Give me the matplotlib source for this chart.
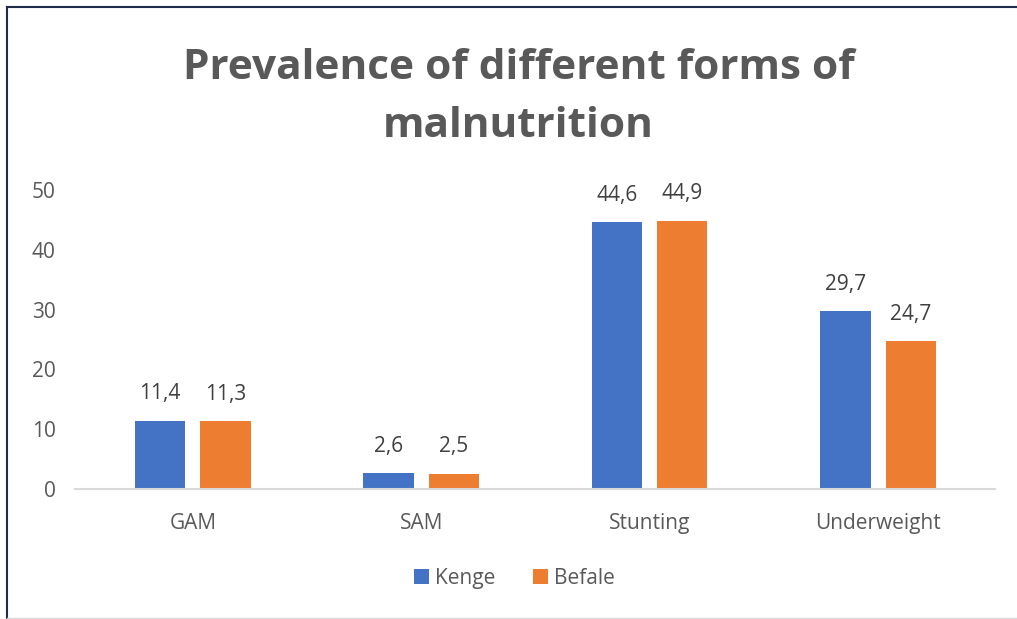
import matplotlib
matplotlib.use("Agg")
import matplotlib.pyplot as plt
import numpy as np
from matplotlib.lines import Line2D

# data
categories = ["GAM", "SAM", "Stunting", "Underweight"]
kenge = [11.4, 2.6, 44.6, 29.7]
befale = [11.3, 2.5, 44.9, 24.7]
series_names = ["Kenge", "Befale"]
y_ticks = [0, 10, 20, 30, 40, 50]

TEXT = "#595959"
BLUE = "#4472C4"
ORANGE = "#ED7D31"
FONT = ["Open Sans", "DejaVu Sans"]

plt.rcParams["font.family"] = FONT

fig = plt.figure(figsize=(10.17, 6.19), dpi=100)
ax = fig.add_axes([0.0737, 0.21, 0.9043, 0.483])

x = np.arange(len(categories))
width = 0.22
offset = 0.143

bars_k = ax.bar(x - offset, kenge, width, color=BLUE, label=series_names[0])
bars_b = ax.bar(x + offset, befale, width, color=ORANGE, label=series_names[1])

for bars in (bars_k, bars_b):
    labels = [f"{v:.1f}".replace(".", ",") for v in bars.datavalues]
    ax.bar_label(bars, labels=labels, padding=12, color="#404040", fontsize=15)

ax.set_xlim(-0.516, 3.51)
ax.set_ylim(0, 50)
ax.set_xticks(x)
ax.set_xticklabels(categories, color=TEXT, fontsize=15)
ax.set_yticks(y_ticks)
ax.set_yticklabels([str(t) for t in y_ticks], color=TEXT, fontsize=15)
ax.tick_params(axis="both", length=0)
ax.tick_params(axis="x", pad=17)
ax.tick_params(axis="y", pad=14)
for side in ("top", "right", "left"):
    ax.spines[side].set_visible(False)
ax.spines["bottom"].set_color("#D9D9D9")
ax.spines["bottom"].set_linewidth(1.5)

fig.text(0.51, 0.842, "Prevalence of different forms of\nmalnutrition",
         ha="center", va="center", fontsize=30.5, fontweight="bold",
         color=TEXT, linespacing=1.55)

fig.legend(loc="center", bbox_to_anchor=(0.506, 0.066), ncol=2, frameon=False,
           fontsize=15, labelcolor=TEXT, handlelength=0.7, handleheight=0.7,
           handletextpad=0.3, columnspacing=1.8)

# chart border
fig.add_artist(Line2D([7 / 1017, 7 / 1017], [0, 1 - 7 / 619], color="#1F2D4D",
                      linewidth=1.5, transform=fig.transFigure))
fig.add_artist(Line2D([7 / 1017, 1], [1 - 7 / 619, 1 - 7 / 619], color="#1F2D4D",
                      linewidth=1.5, transform=fig.transFigure))
fig.add_artist(Line2D([7 / 1017, 1], [1.5 / 619, 1.5 / 619], color="#D9D9D9",
                      linewidth=1, transform=fig.transFigure))

fig.savefig("out.png", dpi=100)
